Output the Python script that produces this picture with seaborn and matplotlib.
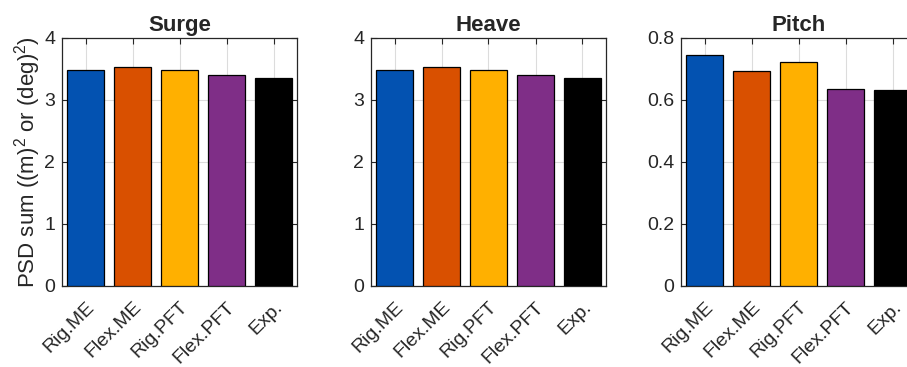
import matplotlib
matplotlib.use("Agg")
import matplotlib.pyplot as plt
import matplotlib.transforms as mtransforms
import seaborn as sns
import pandas as pd

# Model variants compared in each motion direction
categories = ["Rig.ME", "Flex.ME", "Rig.PFT", "Flex.PFT", "Exp."]
surge = [3.48, 3.53, 3.48, 3.40, 3.35]
heave = [3.48, 3.53, 3.48, 3.40, 3.35]
pitch = [0.745, 0.692, 0.724, 0.635, 0.632]
titles = ["Surge", "Heave", "Pitch"]
colors = ["#0352B1", "#D95000", "#FFB000", "#7F2E87", "#000000"]

surge_ticks = [0, 1, 2, 3, 4]
heave_ticks = [0, 1, 2, 3, 4]
pitch_ticks = [0, 0.2, 0.4, 0.6, 0.8]
surge_ticklabels = ["0", "1", "2", "3", "4"]
heave_ticklabels = ["0", "1", "2", "3", "4"]
pitch_ticklabels = ["0", "0.2", "0.4", "0.6", "0.8"]

sns.set_theme(style="white")
plt.rcParams["font.family"] = ["Liberation Sans", "DejaVu Sans"]
plt.rcParams["mathtext.fontset"] = "custom"
plt.rcParams["mathtext.rm"] = "Liberation Sans"
plt.rcParams["mathtext.it"] = "Liberation Sans"

fig = plt.figure(figsize=(9.07, 3.67), dpi=100)
W, H = 907, 367

panels = [
    (surge, surge_ticks, surge_ticklabels, 62),
    (heave, heave_ticks, heave_ticklabels, 371),
    (pitch, pitch_ticks, pitch_ticklabels, 681),
]

axis_color = "#262626"
label_shift = mtransforms.ScaledTranslation(10 / 100, 0, fig.dpi_scale_trans)

for i, ((vals, yt, ytl, left_px), title) in enumerate(zip(panels, titles)):
    ax = fig.add_axes([left_px / W, (H - 286) / H, 235 / W, 248 / H])
    df = pd.DataFrame({"model": categories, "value": vals})
    sns.barplot(data=df, x="model", y="value", hue="model", palette=colors,
                order=categories, hue_order=categories, legend=False,
                edgecolor="black", linewidth=0.9, width=0.8, saturation=1,
                ax=ax, zorder=3)
    ax.set_xlim(-0.5, len(categories) - 0.5)
    ax.set_ylim(yt[0], yt[-1])
    ax.set_yticks(yt)
    ax.set_yticklabels(ytl)
    ax.set_xticks(range(len(categories)))
    ax.set_xticklabels(categories, rotation=45, ha="right", va="top",
                       rotation_mode="anchor")
    for lab in ax.get_xticklabels():
        lab.set_transform(lab.get_transform() + label_shift)
    ax.set_xlabel("")
    ax.set_ylabel("")
    ax.set_title(title, fontsize=16, fontweight="bold", pad=5)
    ax.grid(True, color="#DCDCDC", linewidth=0.8, zorder=0)
    ax.set_axisbelow(True)
    for s in ax.spines.values():
        s.set_visible(True)
        s.set_color(axis_color)
        s.set_linewidth(0.9)
    ax.tick_params(axis="both", direction="in", length=4, width=0.8,
                   color=axis_color, labelcolor=axis_color, labelsize=14,
                   top=True, right=True, bottom=True, left=True)
    ax.tick_params(axis="x", pad=9)
    ax.tick_params(axis="y", pad=5)
    if i == 0:
        ax.set_ylabel(r"PSD sum ((m)$^2$ or (deg)$^2$)", fontsize=16,
                      color=axis_color, labelpad=1)

fig.savefig("out.png", dpi=100)
